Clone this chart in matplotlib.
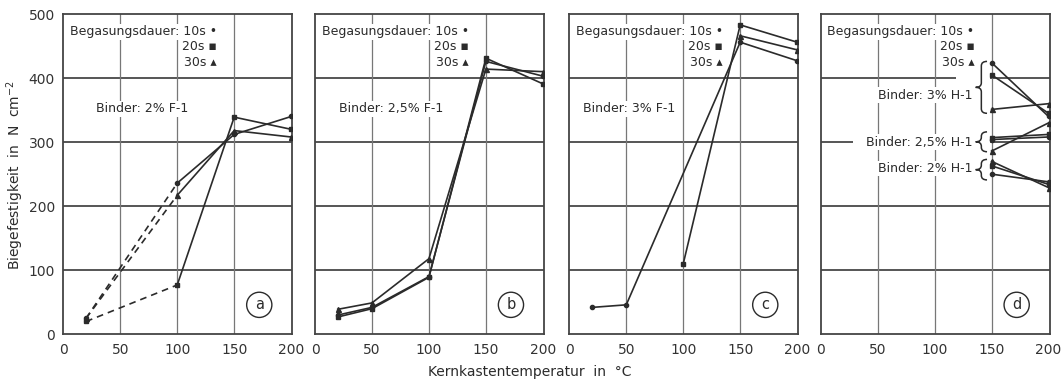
import numpy as np
import matplotlib.pyplot as plt
from matplotlib.path import Path
from matplotlib.patches import PathPatch, Rectangle

plt.rcParams['font.family'] = ['DejaVu Sans']

# Biegefestigkeit (N/cm^2) over Kernkastentemperatur (degC)
# (a) Binder 2% F-1, first segment dashed
temp_a = [20, 100, 150, 200]
a_10s = [25, 236, 312, 340]
a_20s = [20, 77, 339, 320]
a_30s = [25, 217, 318, 308]

# (b) Binder 2,5% F-1
temp_b = [20, 50, 100, 150, 200]
b_10s = [30, 42, 90, 426, 403]
b_20s = [27, 40, 89, 431, 391]
b_30s = [39, 49, 118, 414, 410]

# (c) Binder 3% F-1
temp_c_10s = [20, 50, 150, 200]
c_10s = [42, 46, 456, 427]
temp_c_20s = [100, 150, 200]
c_20s = [110, 483, 456]
temp_c_30s = [150, 200]
c_30s = [466, 444]

# (d) H-1 binders, only 150 and 200 degC
temp_d = [150, 200]
d_3_10s, d_3_20s, d_3_30s = [424, 340], [405, 345], [351, 360]
d_25_10s, d_25_20s, d_25_30s = [304, 308], [307, 312], [286, 330]
d_2_10s, d_2_20s, d_2_30s = [250, 238], [263, 234], [270, 229]

x_ticks = [0, 50, 100, 150, 200]
y_ticks = [0, 100, 200, 300, 400, 500]

ink = '#2b2b2b'
fs = 9
markers = {'10s': ('o', 3.0), '20s': ('s', 3.0), '30s': ('^', 3.6)}
white_box = dict(facecolor='white', edgecolor='none', pad=1.0)


def series(ax, x, y, key, dashed_first=False):
    m, ms = markers[key]
    if dashed_first:
        ax.plot(x[:2], y[:2], ls=(0, (4, 3)), color=ink, lw=1.2, zorder=3)
        ax.plot(x[1:], y[1:], color=ink, lw=1.2, zorder=3)
        ax.plot(x, y, ls='none', marker=m, ms=ms, color=ink, zorder=4)
    else:
        ax.plot(x, y, color=ink, lw=1.2, marker=m, ms=ms, zorder=3)


def brace(ax, x, y0, y1, w=10):
    ym = (y0 + y1) / 2
    d = 7
    verts = [(x + w * 0.5, y1), (x, y1), (x, y1 - d),
             (x, ym + d), (x, ym), (x - w * 0.5, ym),
             (x, ym), (x, ym - d),
             (x, y0 + d), (x, y0), (x + w * 0.5, y0)]
    codes = [Path.MOVETO, Path.CURVE3, Path.CURVE3,
             Path.LINETO, Path.CURVE3, Path.CURVE3,
             Path.CURVE3, Path.CURVE3,
             Path.LINETO, Path.CURVE3, Path.CURVE3]
    ax.add_patch(PathPatch(Path(verts, codes), fill=False, ec=ink, lw=1.1, zorder=5))


fig = plt.figure(figsize=(10.64, 3.86), dpi=100)
lefts = [63.3, 315.0, 569.3, 820.7]
axes = []
for i, lpx in enumerate(lefts):
    ax = fig.add_axes([lpx / 1064, (386 - 334.3) / 386, 229 / 1064, 320.3 / 386])
    ax.set_xlim(0, 201)
    ax.set_ylim(0, 500)
    ax.set_xticks(x_ticks)
    ax.set_yticks(y_ticks)
    if i > 0:
        ax.set_yticklabels([])
    ax.tick_params(length=0, pad=6, labelsize=10, colors='#333333')
    for sp in ax.spines.values():
        sp.set_color('#444444')
        sp.set_linewidth(1.3)
    for yv in y_ticks[1:-1]:
        ax.axhline(yv, color='#555555', lw=1.4, zorder=1)
    for xv in x_ticks[1:-1]:
        ax.axvline(xv, color='#777777', lw=0.9, zorder=1)
    ax.text(135, 472, 'Begasungsdauer: 10s \u2022', ha='right', va='center',
            fontsize=fs, color=ink, bbox=white_box, zorder=2)
    ax.text(135, 449, '20s \u25aa', ha='right', va='center',
            fontsize=fs, color=ink, bbox=white_box, zorder=2)
    ax.text(135, 425, '30s \u25b4', ha='right', va='center',
            fontsize=fs, color=ink, bbox=white_box, zorder=2)
    ax.text(172, 46, 'abcd'[i], ha='center', va='center', fontsize=10.5, color=ink,
            bbox=dict(boxstyle='circle,pad=0.35', facecolor='white', edgecolor=ink, lw=1.0),
            zorder=5)
    axes.append(ax)

ax_a, ax_b, ax_c, ax_d = axes

series(ax_a, temp_a, a_10s, '10s', dashed_first=True)
series(ax_a, temp_a, a_20s, '20s', dashed_first=True)
series(ax_a, temp_a, a_30s, '30s', dashed_first=True)
ax_a.text(29, 352, 'Binder: 2% F-1', ha='left', va='center', fontsize=fs,
          color=ink, bbox=white_box, zorder=2)

series(ax_b, temp_b, b_10s, '10s')
series(ax_b, temp_b, b_20s, '20s')
series(ax_b, temp_b, b_30s, '30s')
ax_b.text(21, 352, 'Binder: 2,5% F-1', ha='left', va='center', fontsize=fs,
          color=ink, bbox=white_box, zorder=2)

series(ax_c, temp_c_10s, c_10s, '10s')
series(ax_c, temp_c_20s, c_20s, '20s')
series(ax_c, temp_c_30s, c_30s, '30s')
ax_c.text(12, 352, 'Binder: 3% F-1', ha='left', va='center', fontsize=fs,
          color=ink, bbox=white_box, zorder=2)

# gaps in the grid behind the braces of panel d
ax_d.add_patch(Rectangle((119, 392), 30, 16, fc='white', ec='none', zorder=1.5))
ax_d.add_patch(Rectangle((28, 292), 121, 16, fc='white', ec='none', zorder=1.5))
for grp in [(d_3_10s, d_3_20s, d_3_30s), (d_25_10s, d_25_20s, d_25_30s),
            (d_2_10s, d_2_20s, d_2_30s)]:
    for vals, key in zip(grp, ['10s', '20s', '30s']):
        series(ax_d, temp_d, vals, key)
brace(ax_d, 141, 345, 426)
brace(ax_d, 141, 285, 316)
brace(ax_d, 141, 241, 273)
ax_d.text(133, 373, 'Binder: 3% H-1', ha='right', va='center', fontsize=fs,
          color=ink, bbox=white_box, zorder=2)
ax_d.text(133, 300, 'Binder: 2,5% H-1', ha='right', va='center', fontsize=fs,
          color=ink, bbox=white_box, zorder=2)
ax_d.text(133, 259, 'Binder: 2% H-1', ha='right', va='center', fontsize=fs,
          color=ink, bbox=white_box, zorder=2)

fig.text(0.014, 0.547, 'Biegefestigkeit  in  N  cm$^{-2}$', rotation=90,
         ha='center', va='center', fontsize=10, color=ink)
fig.text(0.498, 0.036, 'Kernkastentemperatur  in  \u00b0C', ha='center', va='center',
         fontsize=10, color=ink)

fig.savefig('out.png', dpi=100, facecolor='white')
